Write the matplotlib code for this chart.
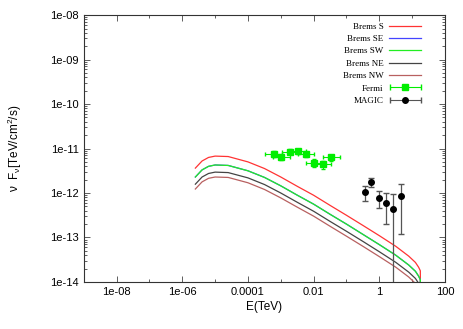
import numpy as np
import matplotlib
matplotlib.use("Agg")
import matplotlib.pyplot as plt
from matplotlib.ticker import FixedLocator, FixedFormatter, LogLocator, NullFormatter
from matplotlib.legend_handler import HandlerErrorbar

# model curves (E in TeV, nu F_nu in TeV/cm^2/s)
E_model = [2.5e-6, 4.0e-6, 6.3e-6, 1.0e-5, 2.5e-5, 1.0e-4, 3.2e-4, 1.0e-3, 3.2e-3,
           1.0e-2, 3.2e-2, 0.1, 0.32, 1.0, 3.2, 7.9, 12.6, 15.8, 17.8, 18.2]
brems_S = [3.63e-12, 5.25e-12, 6.31e-12, 6.76e-12, 6.61e-12, 5.01e-12, 3.55e-12, 2.29e-12, 1.41e-12,
           8.91e-13, 5.25e-13, 3.16e-13, 1.86e-13, 1.10e-13, 6.31e-14, 3.80e-14, 2.75e-14, 2.14e-14, 1.78e-14, 1e-16]
brems_SE = [2.29e-12, 3.31e-12, 3.98e-12, 4.27e-12, 4.17e-12, 3.16e-12, 2.24e-12, 1.45e-12, 8.91e-13,
            5.62e-13, 3.31e-13, 2.00e-13, 1.17e-13, 6.92e-14, 3.98e-14, 2.40e-14, 1.74e-14, 1.35e-14, 1.12e-14, 1e-16]
brems_SW = [2.29e-12, 3.31e-12, 3.98e-12, 4.27e-12, 4.17e-12, 3.16e-12, 2.24e-12, 1.45e-12, 8.91e-13,
            5.62e-13, 3.31e-13, 2.00e-13, 1.17e-13, 6.92e-14, 3.98e-14, 2.40e-14, 1.74e-14, 1.35e-14, 1.12e-14, 1e-16]
brems_NE = [1.58e-12, 2.29e-12, 2.75e-12, 2.95e-12, 2.88e-12, 2.19e-12, 1.55e-12, 1.00e-12, 6.17e-13,
            3.89e-13, 2.29e-13, 1.38e-13, 8.13e-14, 4.79e-14, 2.75e-14, 1.66e-14, 1.20e-14, 9.3e-15, 7.8e-15, 1e-16]
brems_NW = [1.23e-12, 1.78e-12, 2.14e-12, 2.29e-12, 2.24e-12, 1.70e-12, 1.20e-12, 7.76e-13, 4.79e-13,
            3.02e-13, 1.78e-13, 1.07e-13, 6.31e-14, 3.72e-14, 2.14e-14, 1.29e-14, 9.3e-15, 7.2e-15, 6.0e-15, 1e-16]

# Fermi points
E_fermi = [6.0e-4, 1.05e-3, 1.9e-3, 3.3e-3, 5.9e-3, 1.05e-2, 1.9e-2, 3.5e-2]
F_fermi = [7.6e-12, 6.3e-12, 8.5e-12, 8.6e-12, 7.4e-12, 4.8e-12, 4.4e-12, 6.3e-12]
F_fermi_err = [1.0e-12, 0.9e-12, 1.1e-12, 1.1e-12, 1.0e-12, 0.9e-12, 0.9e-12, 1.0e-12]

# MAGIC points
E_magic = [0.355, 0.575, 1.0, 1.63, 2.7, 4.5]
F_magic = [1.05e-12, 1.8e-12, 7.9e-13, 5.9e-13, 4.4e-13, 8.5e-13]
F_magic_lo = [6.7e-13, 1.38e-12, 4.6e-13, 2.0e-13, 1e-16, 1.17e-13]
F_magic_hi = [1.45e-12, 2.2e-12, 1.12e-12, 9.8e-13, 9.5e-13, 1.6e-12]

x_ticks = [1e-8, 1e-6, 1e-4, 1e-2, 1, 100]
x_ticklabels = ['1e-08', '1e-06', '0.0001', '0.01', '1', '100']
y_ticks = [1e-14, 1e-13, 1e-12, 1e-11, 1e-10, 1e-9, 1e-8]
y_ticklabels = ['1e-14', '1e-13', '1e-12', '1e-11', '1e-10', '1e-09', '1e-08']

plt.rcParams['font.family'] = ['Liberation Sans', 'DejaVu Sans']
plt.rcParams['mathtext.fontset'] = 'custom'
plt.rcParams['mathtext.rm'] = 'Liberation Sans'
plt.rcParams['mathtext.it'] = 'Liberation Sans'

fig = plt.figure(figsize=(4.63, 3.29), dpi=100)
ax = fig.add_axes([0.181, 0.143, 0.780, 0.811])

ax.plot(E_model, brems_S, color='#ff3333', lw=0.9, label='Brems S')
ax.plot(E_model, brems_SE, color='#4444ff', lw=0.9, label='Brems SE')
ax.plot(E_model, brems_SW, color='#22ee22', lw=0.9, label='Brems SW')
ax.plot(E_model, brems_NE, color='#444444', lw=0.9, label='Brems NE')
ax.plot(E_model, brems_NW, color='#b86060', lw=0.9, label='Brems NW')

xe_lo = np.array(E_fermi) * (1 - 10**-0.25)
xe_hi = np.array(E_fermi) * (10**0.25 - 1)
ax.errorbar(E_fermi, F_fermi, xerr=[xe_lo, xe_hi], yerr=F_fermi_err, fmt='s', ms=4,
            color='#00ee00', ecolor='#00ee00', elinewidth=0.8, capsize=1.5)
yerr_m = [np.array(F_magic) - np.array(F_magic_lo), np.array(F_magic_hi) - np.array(F_magic)]
ax.errorbar(E_magic, F_magic, yerr=yerr_m, fmt='o', ms=4, color='black',
            ecolor='#555555', elinewidth=0.9, capsize=2)

# legend proxies (gnuplot style: horizontal bar with end caps)
h_f = ax.errorbar([np.nan], [np.nan], xerr=[1], fmt='s', ms=4, color='#00ee00',
                  elinewidth=0.8, capsize=2, label='Fermi')
h_m = ax.errorbar([np.nan], [np.nan], xerr=[1], fmt='o', ms=4, color='black',
                  ecolor='#555555', elinewidth=0.8, capsize=2, label='MAGIC')

ax.set_xscale('log')
ax.set_yscale('log')
ax.set_xlim(1e-9, 1e2)
ax.set_ylim(1e-14, 1e-8)

ax.xaxis.set_major_locator(FixedLocator(x_ticks))
ax.xaxis.set_major_formatter(FixedFormatter(x_ticklabels))
ax.xaxis.set_minor_locator(FixedLocator([1e-9, 1e-7, 1e-5, 1e-3, 1e-1, 10]))
ax.xaxis.set_minor_formatter(NullFormatter())
ax.yaxis.set_major_locator(FixedLocator(y_ticks))
ax.yaxis.set_major_formatter(FixedFormatter(y_ticklabels))
ax.yaxis.set_minor_locator(LogLocator(base=10, subs=np.arange(2, 10)))
ax.yaxis.set_minor_formatter(NullFormatter())

ax.tick_params(which='both', direction='in', top=True, right=True, labelsize=8, width=0.6, color='#444444')
ax.tick_params(which='major', length=4)
ax.tick_params(which='minor', length=2)
ax.tick_params(axis='x', which='minor', length=2.5)
for s in ax.spines.values():
    s.set_linewidth(0.8)
    s.set_color('#333333')

ax.set_xlabel('E(TeV)', fontsize=8.5, labelpad=3)
ax.set_ylabel(r'ν  F$_\nu$[TeV/cm$^2$/s)', fontsize=8.5, labelpad=19)

hmap = {h_f: HandlerErrorbar(xerr_size=1.7), h_m: HandlerErrorbar(xerr_size=1.7)}
leg = ax.legend(loc='upper right', frameon=False, markerfirst=False,
                prop={'family': 'Liberation Serif', 'size': 6.5},
                handlelength=3.6, handletextpad=0.6, labelspacing=0.45,
                borderaxespad=0.4, bbox_to_anchor=(0.955, 1.0), handler_map=hmap)

fig.savefig('out.png', dpi=100)
